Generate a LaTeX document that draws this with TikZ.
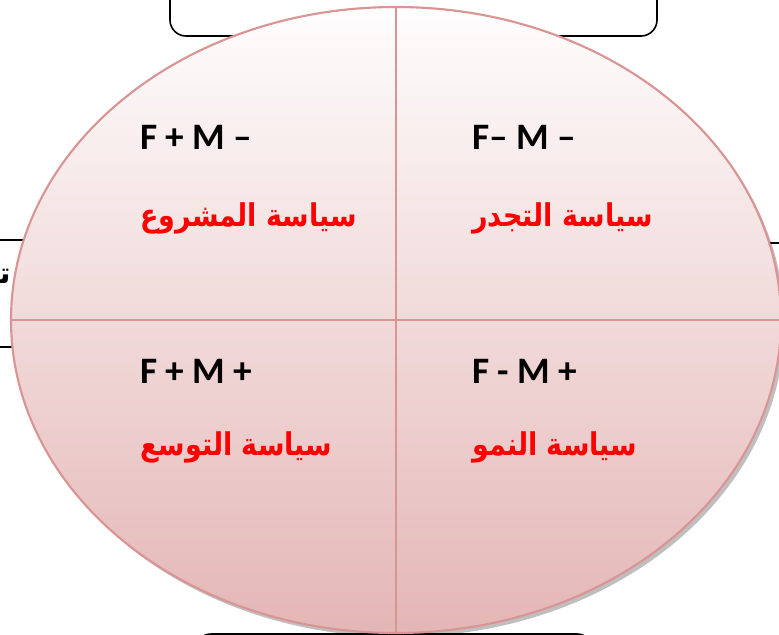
\documentclass[tikz,border=0pt]{standalone}
\usepackage{fontspec}
\setmainfont{Carlito}
\newfontfamily\arabicfont[Script=Arabic]{DejaVu Sans}
\TeXXeTstate=1
\usetikzlibrary{shapes.geometric,shadows}
\definecolor{rim}{HTML}{D99594}
\definecolor{topfill}{HTML}{FEFDFD}
\definecolor{botfill}{HTML}{E4B6B6}
\definecolor{arred}{HTML}{FF0000}
\tikzset{
  px/.style={x=0.75pt,y=0.75pt},
  sidebox/.style={draw=black,line width=1.2pt,fill=white},
  flabel/.style={anchor=base west,inner sep=0pt,font=\fontsize{28}{30}\selectfont\bfseries},
  arlabel/.style={anchor=base west,inner sep=0pt,text=arred,transform shape,xscale=0.86,
                  font=\arabicfont\fontsize{23.5}{26}\selectfont\bfseries},
  divider/.style={draw=rim,line width=1.2pt},
}
\begin{document}
\begin{tikzpicture}[px]
\useasboundingbox (0,0) rectangle (779,-635);
% surrounding boxes (mostly hidden)
\draw[sidebox,rounded corners=12pt] (170,40) rectangle (657,-36);
\draw[sidebox,line width=0.9pt] (-60,-240) rectangle (200,-347);
\draw[sidebox,line width=0.9pt] (760,-243) rectangle (900,-330);
\draw[sidebox,rounded corners=12pt] (195,-634) rectangle (593,-720);
\node[anchor=base east,inner sep=0pt,font=\arabicfont\fontsize{22}{26}\selectfont\bfseries] (cut) at (11,-283) {\beginR تـ\endR};
% main ellipse
\node[ellipse,inner sep=0pt,outer sep=0pt,
      minimum width=577.5pt,minimum height=469.5pt,
      draw=rim,line width=1.6pt,top color=topfill,bottom color=botfill,
      drop shadow={shadow xshift=2.5pt,shadow yshift=-3pt,fill=black,opacity=0.25}]
      (E) at (396,-320) {};
\draw[divider] (E.north) -- (E.south);
\draw[divider] (E.west) -- (E.east);
% labels
\node[flabel] (l1) at (140,-150) {F + M –};
\node[flabel] (l2) at (472,-150) {F– M –};
\node[flabel] (l3) at (140,-383) {F + M +};
\node[flabel] (l4) at (472,-383) {F - M +};
\node[arlabel] (a1) at (140,-226) {\beginR سياسة المشروع\endR};
\node[arlabel] (a2) at (472,-226) {\beginR سياسة التجدر\endR};
\node[arlabel] (a3) at (140,-455) {\beginR سياسة التوسع\endR};
\node[arlabel] (a4) at (472,-455) {\beginR سياسة النمو\endR};
\end{tikzpicture}
\end{document}
